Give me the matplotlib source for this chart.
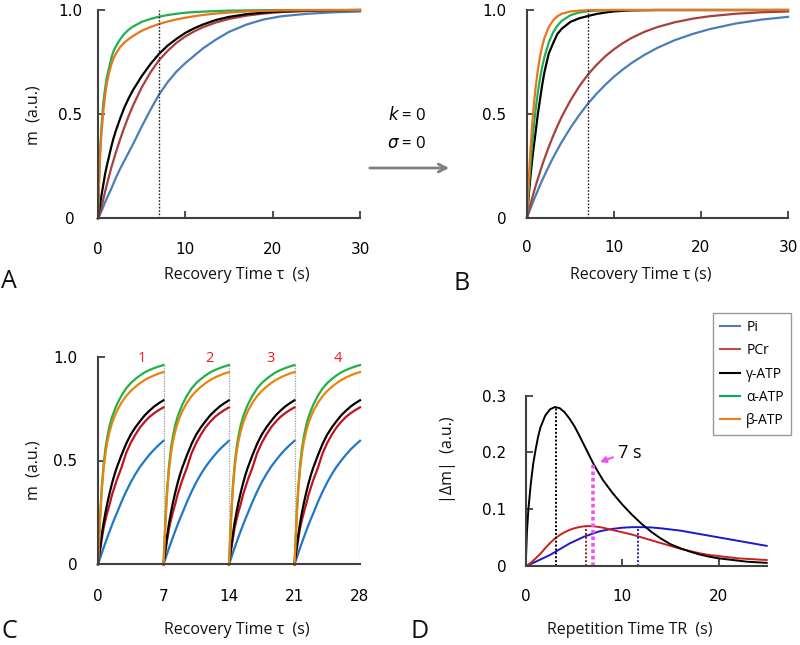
import matplotlib
matplotlib.use("Agg")
import matplotlib.pyplot as plt
from matplotlib.lines import Line2D
from matplotlib.patches import FancyArrowPatch

plt.rcParams['font.family'] = ['DejaVu Sans']

# ---------------- data ----------------
species = ["Pi", "PCr", "γ-ATP", "α-ATP", "β-ATP"]

# Panel A: recovery with exchange
tA = [0, 0.1, 0.25, 0.4, 0.6, 0.8, 1, 1.25, 1.5, 1.75, 2, 2.5, 3, 3.5, 4, 5, 6, 7, 8, 9, 10, 11, 12, 13.5, 15, 17, 19, 21, 24, 27, 30]
A_pi   = [0, 0.008, 0.02, 0.035, 0.055, 0.075, 0.095, 0.118, 0.14, 0.165, 0.19, 0.235, 0.275, 0.315, 0.355, 0.44, 0.52, 0.595, 0.655, 0.705, 0.745, 0.78, 0.815, 0.858, 0.895, 0.93, 0.955, 0.97, 0.982, 0.989, 0.993]
A_pcr  = [0, 0.01, 0.03, 0.055, 0.09, 0.125, 0.16, 0.2, 0.24, 0.275, 0.31, 0.375, 0.435, 0.49, 0.54, 0.628, 0.7, 0.76, 0.805, 0.843, 0.873, 0.897, 0.917, 0.94, 0.957, 0.973, 0.983, 0.99, 0.995, 0.998, 1.0]
A_gatp = [0, 0.03, 0.07, 0.11, 0.16, 0.21, 0.25, 0.295, 0.34, 0.38, 0.415, 0.475, 0.53, 0.575, 0.615, 0.682, 0.74, 0.79, 0.83, 0.862, 0.89, 0.912, 0.93, 0.952, 0.967, 0.98, 0.988, 0.993, 0.997, 0.999, 1.0]
A_aatp = [0, 0.16, 0.33, 0.44, 0.55, 0.62, 0.675, 0.72, 0.765, 0.80, 0.822, 0.857, 0.885, 0.905, 0.92, 0.943, 0.957, 0.968, 0.976, 0.982, 0.987, 0.99, 0.992, 0.995, 0.997, 0.998, 0.999, 1.0, 1.0, 1.0, 1.0]
A_batp = [0, 0.15, 0.31, 0.41, 0.51, 0.585, 0.645, 0.695, 0.735, 0.765, 0.787, 0.82, 0.843, 0.86, 0.875, 0.90, 0.918, 0.933, 0.945, 0.955, 0.963, 0.97, 0.976, 0.983, 0.988, 0.993, 0.996, 0.998, 0.999, 1.0, 1.0]

# Panel B: k = 0, sigma = 0
tB = [0, 0.1, 0.25, 0.4, 0.6, 0.8, 1, 1.25, 1.5, 1.75, 2, 2.5, 3, 3.5, 4, 5, 6, 7, 8, 9, 10, 11, 12, 13.5, 15, 17, 19, 21, 24, 27, 30]
B_pi   = [0, 0.011, 0.028, 0.044, 0.066, 0.087, 0.107, 0.132, 0.157, 0.18, 0.203, 0.247, 0.289, 0.328, 0.365, 0.433, 0.494, 0.549, 0.597, 0.64, 0.679, 0.713, 0.744, 0.784, 0.818, 0.855, 0.884, 0.908, 0.935, 0.954, 0.967]
B_pcr  = [0, 0.017, 0.041, 0.064, 0.095, 0.125, 0.154, 0.188, 0.221, 0.253, 0.283, 0.341, 0.393, 0.442, 0.487, 0.565, 0.632, 0.689, 0.736, 0.777, 0.811, 0.84, 0.865, 0.895, 0.918, 0.941, 0.958, 0.97, 0.982, 0.989, 0.993]
B_gatp = [0, 0.055, 0.13, 0.2, 0.28, 0.35, 0.415, 0.5, 0.57, 0.64, 0.70, 0.79, 0.84, 0.885, 0.91, 0.943, 0.96, 0.971, 0.981, 0.988, 0.993, 0.996, 0.998, 0.999, 1.0, 1.0, 1.0, 1.0, 1.0, 1.0, 1.0]
B_aatp = [0, 0.072, 0.17, 0.256, 0.36, 0.447, 0.523, 0.604, 0.671, 0.727, 0.773, 0.843, 0.892, 0.925, 0.948, 0.975, 0.988, 0.994, 0.997, 0.999, 1.0, 1.0, 1.0, 1.0, 1.0, 1.0, 1.0, 1.0, 1.0, 1.0, 1.0]
B_batp = [0, 0.10, 0.22, 0.33, 0.45, 0.55, 0.63, 0.713, 0.777, 0.826, 0.865, 0.918, 0.95, 0.97, 0.982, 0.993, 0.997, 0.999, 1.0, 1.0, 1.0, 1.0, 1.0, 1.0, 1.0, 1.0, 1.0, 1.0, 1.0, 1.0, 1.0]

# Panel C: one repetition period (TR = 7 s), repeated 4 times
tC = [0, 0.1, 0.25, 0.4, 0.6, 0.8, 1, 1.25, 1.5, 1.75, 2, 2.5, 3, 3.5, 4, 4.5, 5, 5.5, 6, 6.5, 7]
C_pi   = [0, 0.013, 0.033, 0.053, 0.08, 0.105, 0.13, 0.16, 0.19, 0.218, 0.245, 0.30, 0.35, 0.395, 0.435, 0.47, 0.50, 0.528, 0.553, 0.575, 0.595]
C_pcr  = [0, 0.03, 0.075, 0.12, 0.175, 0.215, 0.25, 0.29, 0.335, 0.37, 0.405, 0.465, 0.535, 0.585, 0.625, 0.66, 0.687, 0.71, 0.728, 0.743, 0.756]
C_gatp = [0, 0.04, 0.09, 0.14, 0.20, 0.25, 0.295, 0.345, 0.39, 0.43, 0.465, 0.525, 0.58, 0.625, 0.66, 0.69, 0.718, 0.74, 0.76, 0.776, 0.79]
C_aatp = [0, 0.10, 0.25, 0.37, 0.48, 0.56, 0.615, 0.67, 0.71, 0.74, 0.768, 0.812, 0.847, 0.873, 0.893, 0.91, 0.925, 0.936, 0.945, 0.953, 0.96]
C_batp = [0, 0.10, 0.24, 0.355, 0.46, 0.535, 0.59, 0.64, 0.68, 0.71, 0.737, 0.778, 0.81, 0.835, 0.855, 0.873, 0.888, 0.90, 0.91, 0.919, 0.926]
C_periods = [0, 7, 14, 21]
C_period_labels = ["1", "2", "3", "4"]
C_label_x = [4.7, 11.9, 18.4, 25.6]

# Panel D: |dm| vs TR
tD = [0, 0.1, 0.25, 0.5, 0.75, 1, 1.25, 1.5, 2, 2.5, 3, 3.5, 4, 4.5, 5, 5.5, 6, 6.5, 7, 7.5, 8, 9, 10, 11, 12, 13, 14, 15, 16, 17, 18, 19, 20, 21, 22, 23, 24, 25]
D_pi   = [0, 0.0005, 0.0015, 0.003, 0.005, 0.007, 0.009, 0.011, 0.015, 0.019, 0.024, 0.029, 0.034, 0.039, 0.043, 0.047, 0.051, 0.054, 0.057, 0.06, 0.062, 0.065, 0.067, 0.068, 0.068, 0.0675, 0.066, 0.064, 0.062, 0.059, 0.056, 0.053, 0.05, 0.047, 0.044, 0.041, 0.038, 0.035]
D_pcr  = [0, 0.0005, 0.002, 0.005, 0.009, 0.013, 0.017, 0.021, 0.031, 0.04, 0.048, 0.054, 0.059, 0.063, 0.066, 0.068, 0.0695, 0.07, 0.0695, 0.0685, 0.067, 0.063, 0.059, 0.055, 0.05, 0.045, 0.04, 0.035, 0.03, 0.026, 0.022, 0.019, 0.017, 0.015, 0.013, 0.012, 0.011, 0.01]
D_gatp = [0.015, 0.06, 0.10, 0.145, 0.18, 0.205, 0.227, 0.244, 0.265, 0.276, 0.28, 0.278, 0.271, 0.26, 0.247, 0.231, 0.214, 0.197, 0.18, 0.165, 0.151, 0.128, 0.108, 0.09, 0.074, 0.06, 0.048, 0.038, 0.031, 0.025, 0.02, 0.016, 0.013, 0.011, 0.009, 0.007, 0.006, 0.005]
D_peak_t = [3.1, 6.2, 11.6]
D_peak_m = [0.28, 0.07, 0.068]
D_mark_t = 7.0
D_mark_m = 0.18

# ---------------- styling ----------------
colA = ['#4a7ebb', '#a8403d', '#000000', '#1fb050', '#e8761f']
colC = ['#1f78c8', '#c0141c', '#000000', '#22b04a', '#e8850c']
colD = ['#1a1acc', '#cc1f1f', '#000000']
colLeg = ['#4a7ebb', '#be4b48', '#000000', '#00b050', '#f07c20']
SPINE = '#404040'
LABEL_FONT = ['Open Sans', 'DejaVu Sans']

W, H = 800, 645
fig = plt.figure(figsize=(8, 6.45), dpi=100)


def fx(px):
    return px / W


def fy(py):
    return 1 - py / H


def make_ax(l, r, t, b):
    return fig.add_axes([fx(l), fy(b), fx(r) - fx(l), fy(t) - fy(b)])


def style(ax, xlim, ylim, xt, yt, ylabels, ypad, xpad, yha='right', xtick_len=5):
    ax.set_xlim(*xlim)
    ax.set_ylim(*ylim)
    for s in ['top', 'right']:
        ax.spines[s].set_visible(False)
    for s in ['left', 'bottom']:
        ax.spines[s].set_color(SPINE)
        ax.spines[s].set_linewidth(1.5)
    ax.set_xticks(xt)
    ax.set_xticklabels([str(v) for v in xt])
    ax.set_yticks(yt)
    ax.set_yticklabels(ylabels)
    ax.tick_params(axis='both', direction='in', color=SPINE, width=1.3, labelsize=11)
    ax.tick_params(axis='x', length=xtick_len, pad=xpad)
    ax.tick_params(axis='y', length=5, pad=ypad)
    for lab in ax.get_yticklabels():
        lab.set_horizontalalignment(yha)
    ax.patch.set_alpha(0)


# Panel A
axA = make_ax(98, 360, 10, 218.3)
for y, c in zip([A_pi, A_pcr, A_gatp, A_aatp, A_batp], colA):
    axA.plot(tA, y, color=c, lw=1.6, clip_on=False, solid_joinstyle='round')
axA.plot([7, 7], [0, 1], color='#222222', lw=1.0, ls=(0, (1.2, 1.2)))
style(axA, (0, 30), (0, 1), [0, 10, 20, 30], [0, 0.5, 1.0], ['0', '0.5', '1.0'], 20, 17, yha='center')

# Panel B
axB = make_ax(527, 788, 10, 217.7)
for y, c in zip([B_pi, B_pcr, B_gatp, B_aatp, B_batp], colA):
    axB.plot(tB, y, color=c, lw=1.6, clip_on=False, solid_joinstyle='round')
axB.plot([7, 7], [0, 1], color='#222222', lw=1.0, ls=(0, (1.2, 1.2)))
style(axB, (0, 30), (0, 1), [0, 10, 20, 30], [0, 0.5, 1.0], ['0', '0.5', '1.0'], 15, 16)

# Panel C
axC = make_ax(98, 360, 356.7, 564.3)
for p in C_periods:
    tt = [p + v for v in tC]
    for y, c in zip([C_pi, C_pcr, C_gatp, C_aatp, C_batp], colC):
        axC.plot(tt, y, color=c, lw=1.6, clip_on=False, solid_joinstyle='round')
    axC.plot([p + 7, p + 7], [0, max(C_aatp)], color='#999999', lw=0.9, ls=(0, (1, 1)))
for xl, lab in zip(C_label_x, C_period_labels):
    axC.text(xl, 0.99, lab, color='#ee1c24', fontsize=10.5, ha='center', va='center',
             family=LABEL_FONT)
style(axC, (0, 28), (0, 1), [0, 7, 14, 21, 28], [0, 0.5, 1.0], ['0', '0.5', '1.0'], 15, 18, xtick_len=0)

# Panel D
axD = make_ax(526, 766.7, 395.7, 565.7)
for y, c in zip([D_pi, D_pcr, D_gatp], colD):
    axD.plot(tD, y, color=c, lw=1.4, clip_on=False, solid_joinstyle='round')
for t, m, c in zip(D_peak_t, D_peak_m, ['#000000', '#a0141c', '#1a1acc']):
    axD.plot([t, t], [0, m], color=c, lw=1.4, ls=(0, (1, 1)))
axD.plot([D_mark_t, D_mark_t], [0, D_mark_m], color='#ee55ee', lw=2.6, ls=(0, (1, 0.8)))
axD.annotate('', xy=(7.4, 0.181), xytext=(9.3, 0.193),
             arrowprops=dict(arrowstyle='-|>', color='#ee55ee', lw=1.5, mutation_scale=9))
axD.text(9.6, 0.199, '7 s', fontsize=13, ha='left', va='center', family=LABEL_FONT)
style(axD, (0, 25), (0, 0.3), [0, 10, 20], [0, 0.1, 0.2, 0.3], ['0', '0.1', '0.2', '0.3'], 14, 17)

# Legend
handles = [Line2D([0], [0], color=c, lw=1.5) for c in colLeg]
leg = fig.legend(handles, species, loc='upper left', bbox_to_anchor=(fx(713), fy(313)),
                 frameon=True, fancybox=False, edgecolor='#808080', borderaxespad=0,
                 handlelength=1.45, handletextpad=0.45, labelspacing=0.6, borderpad=0.5,
                 prop={'family': LABEL_FONT, 'size': 10})
leg.get_frame().set_linewidth(1.0)

# Axis labels
lab_kw = dict(family=LABEL_FONT, fontsize=11.5, color='#111111')
fig.text(fx(33), fy(115), 'm  (a.u.)', rotation=90, ha='center', va='center', **lab_kw)
fig.text(fx(33), fy(470), 'm  (a.u.)', rotation=90, ha='center', va='center', **lab_kw)
fig.text(fx(448), fy(460), '|Δm|  (a.u.)', rotation=90, ha='center', va='center', **lab_kw)
fig.text(fx(237), fy(275), 'Recovery Time τ  (s)', ha='center', va='center', **lab_kw)
fig.text(fx(641), fy(275), 'Recovery Time τ (s)', ha='center', va='center', **lab_kw)
fig.text(fx(237), fy(630), 'Recovery Time τ  (s)', ha='center', va='center', **lab_kw)
fig.text(fx(630), fy(630), 'Repetition Time TR  (s)', ha='center', va='center', **lab_kw)

# Panel letters
let_kw = dict(family=LABEL_FONT, fontsize=18, ha='center', va='center', color='#111111')
fig.text(fx(9), fy(282), 'A', **let_kw)
fig.text(fx(462), fy(283), 'B', **let_kw)
fig.text(fx(9), fy(632), 'C', **let_kw)
fig.text(fx(420), fy(632), 'D', **let_kw)

# Arrow between A and B
fig.add_artist(FancyArrowPatch((fx(367), fy(168)), (fx(452), fy(168)), transform=fig.transFigure,
                               arrowstyle='->', mutation_scale=14, color='#808080', lw=2.0))
fig.text(fx(407), fy(115), r'$k$ = 0', ha='center', va='center', fontsize=12, family=LABEL_FONT)
fig.text(fx(407), fy(144), r'$\sigma$ = 0', ha='center', va='center', fontsize=12, family=LABEL_FONT)

fig.savefig('out.png', dpi=100)
